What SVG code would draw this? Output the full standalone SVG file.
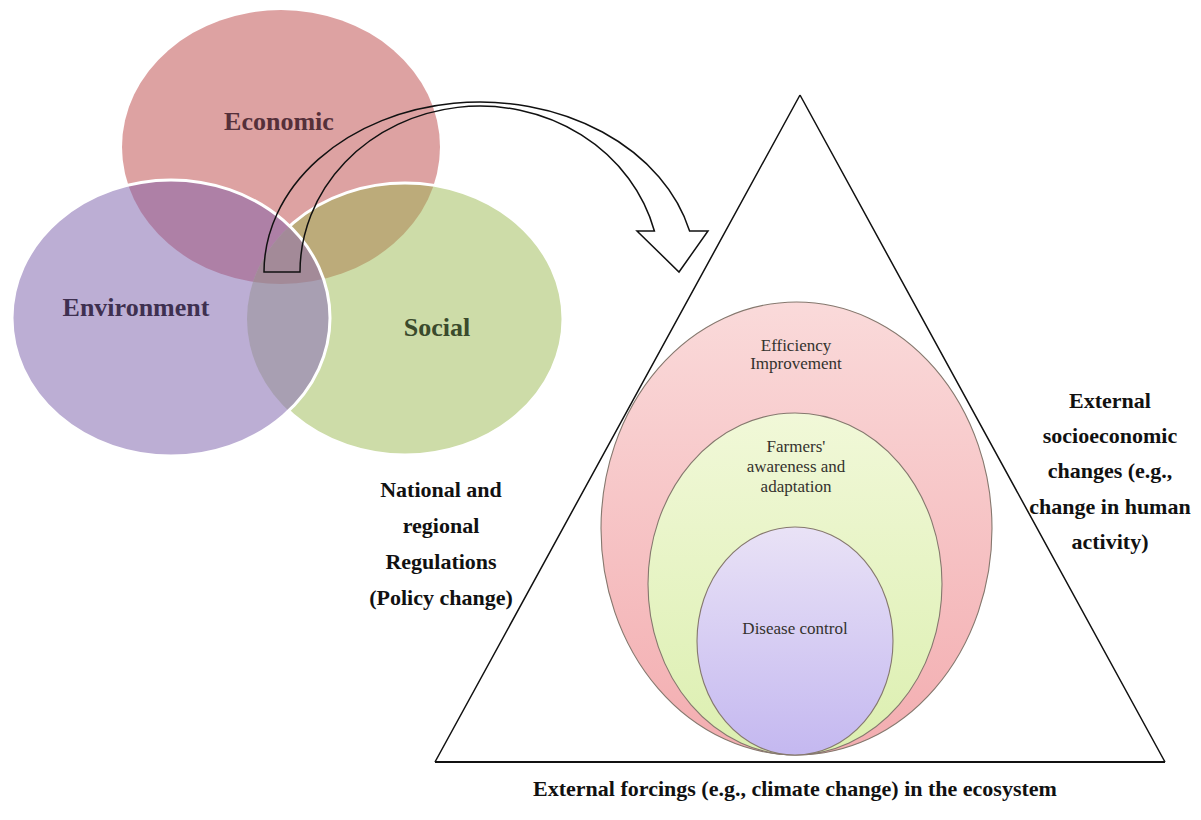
<svg xmlns="http://www.w3.org/2000/svg" xmlns:xlink="http://www.w3.org/1999/xlink" width="1201" height="820" viewBox="0 0 1201 820">
<style>
.venn{font-family:"Liberation Serif","Times New Roman",serif;font-weight:bold;font-size:26px;text-anchor:middle}
.lbl{font-family:"Liberation Serif","Times New Roman",serif;font-weight:bold;font-size:22px;text-anchor:middle;fill:#111}
.inner{font-family:"Liberation Serif","Times New Roman",serif;font-size:17px;text-anchor:middle;fill:#34322e}
.ring{stroke:#85786e;stroke-width:1.1}
.line{fill:none;stroke:#111;stroke-width:1.5}
</style>
<defs>
<ellipse id="eEcon" cx="281" cy="147" rx="159" ry="137"/>
<ellipse id="eEnv" cx="171" cy="318" rx="159" ry="138"/>
<ellipse id="eSoc" cx="405" cy="319" rx="158" ry="136"/>
<clipPath id="cEcon"><use xlink:href="#eEcon"/></clipPath>
<clipPath id="cSoc"><use xlink:href="#eSoc"/></clipPath>
<linearGradient id="gPink" x1="0" y1="0" x2="0" y2="1"><stop offset="0" stop-color="#fadada"/><stop offset="1" stop-color="#f3adb0"/></linearGradient>
<linearGradient id="gGreen" x1="0" y1="0" x2="0" y2="1"><stop offset="0" stop-color="#f1f8d8"/><stop offset="1" stop-color="#dcefb0"/></linearGradient>
<linearGradient id="gPurple" x1="0" y1="0" x2="0" y2="1"><stop offset="0" stop-color="#e9e2f6"/><stop offset="1" stop-color="#c4b8f0"/></linearGradient>
</defs>
<rect width="1201" height="820" fill="#fff"/>

<g id="economic">
<use xlink:href="#eEcon" fill="#dda2a2"/>
<text class="venn" x="279" y="130" fill="#55303a">Economic</text>
</g>
<g id="social">
<use xlink:href="#eSoc" fill="#cddca8"/>
<use xlink:href="#eSoc" fill="#bcab7a" clip-path="url(#cEcon)"/>
<use xlink:href="#eSoc" fill="none" stroke="#fff" stroke-width="3"/>
<text class="venn" x="437" y="336" fill="#3a4a2c">Social</text>
</g>
<g id="environment">
<use xlink:href="#eEnv" fill="#bcaed4"/>
<use xlink:href="#eEnv" fill="#ae80a6" clip-path="url(#cEcon)"/>
<use xlink:href="#eEnv" fill="#a89fb2" clip-path="url(#cSoc)"/>
<g clip-path="url(#cSoc)"><use xlink:href="#eEnv" fill="#a38a98" clip-path="url(#cEcon)"/></g>
<use xlink:href="#eEnv" fill="none" stroke="#fff" stroke-width="3"/>
<text class="venn" x="136" y="316" fill="#3e3050">Environment</text>
</g>

<g id="triangle">
<path class="line" d="M800,95 L1165,762 M800,95 L435,762"/>
<line x1="435" y1="762" x2="1165" y2="762" stroke="#111" stroke-width="2.2"/>
</g>

<g id="efficiency">
<ellipse class="ring" cx="796.5" cy="528.5" rx="195.5" ry="226.5" fill="url(#gPink)"/>
<text class="inner" x="796" y="351">Efficiency</text>
<text class="inner" x="796" y="369">Improvement</text>
</g>
<g id="farmers">
<ellipse class="ring" cx="795" cy="584" rx="147" ry="171" fill="url(#gGreen)"/>
<text class="inner" x="796" y="452">Farmers'</text>
<text class="inner" x="796" y="472">awareness and</text>
<text class="inner" x="796" y="492">adaptation</text>
</g>
<g id="disease">
<ellipse class="ring" cx="795" cy="641" rx="98" ry="114" fill="url(#gPurple)"/>
<text class="inner" x="795" y="634">Disease control</text>
</g>

<g id="connectors">
<path class="line" stroke-linejoin="miter" d="M264,272 L300,272 A180,166 0 0 1 654.4,231 L637,231 L679,272 L708,231 L689.6,231 A216,170 0 0 0 264,272 Z"/>
</g>

<g id="policy">
<text class="lbl" x="441" y="497">National and</text>
<text class="lbl" x="441" y="533">regional</text>
<text class="lbl" x="441" y="569">Regulations</text>
<text class="lbl" x="441" y="605">(Policy change)</text>
</g>
<g id="socioeconomic">
<text class="lbl" x="1110" y="408">External</text>
<text class="lbl" x="1110" y="443">socioeconomic</text>
<text class="lbl" x="1110" y="478">changes (e.g.,</text>
<text class="lbl" x="1110" y="514">change in human</text>
<text class="lbl" x="1110" y="549">activity)</text>
</g>
<g id="forcings">
<text class="lbl" x="795" y="796">External forcings (e.g., climate change) in the ecosystem</text>
</g>
</svg>
